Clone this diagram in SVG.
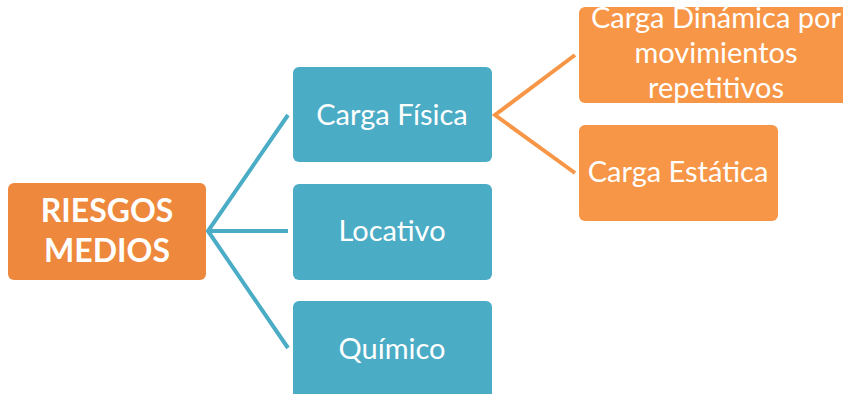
<svg xmlns="http://www.w3.org/2000/svg" width="843" height="394" viewBox="0 0 843 394">
<style>
.blue{fill:#4BACC6}
.or{fill:#F79646}
.root{fill:#EE883D}
text{font-family:Lato,"Open Sans",sans-serif;fill:#fff;text-anchor:middle}
.t{font-size:29px}
.b{font-size:32px;font-weight:bold}
.cb{stroke:#4BACC6;stroke-width:4;fill:none}
.co{stroke:#F79646;stroke-width:4;fill:none}
</style>
<rect width="843" height="394" fill="#fff"/>
<g id="connectors">
<polyline class="cb" points="288,115 208,231 288,348"/>
<line class="cb" x1="208" y1="231" x2="288" y2="231"/>
<polyline class="co" points="575,55 495,115 575,173"/>
</g>
<g id="root"><rect class="root" x="8" y="183" width="198" height="97" rx="6"/>
<text class="b" x="107" y="222">RIESGOS</text><text class="b" x="107" y="262">MEDIOS</text></g>
<g id="carga-fisica"><rect class="blue" x="293" y="67" width="199" height="95" rx="6"/>
<text class="t" x="392" y="125">Carga Física</text></g>
<g id="locativo"><rect class="blue" x="293" y="184" width="199" height="96" rx="6"/>
<text class="t" x="392" y="241">Locativo</text></g>
<g id="quimico"><rect class="blue" x="293" y="301" width="199" height="100" rx="6"/>
<text class="t" x="392" y="359">Químico</text></g>
<g id="carga-dinamica"><rect class="or" x="579" y="7" width="272" height="96" rx="6"/>
<text class="t" x="716" y="28">Carga Dinámica por</text><text class="t" x="716" y="63">movimientos</text><text class="t" x="716" y="98">repetitivos</text></g>
<g id="carga-estatica"><rect class="or" x="579" y="125" width="199" height="96" rx="6"/>
<text class="t" x="678" y="182">Carga Estática</text></g>
</svg>
